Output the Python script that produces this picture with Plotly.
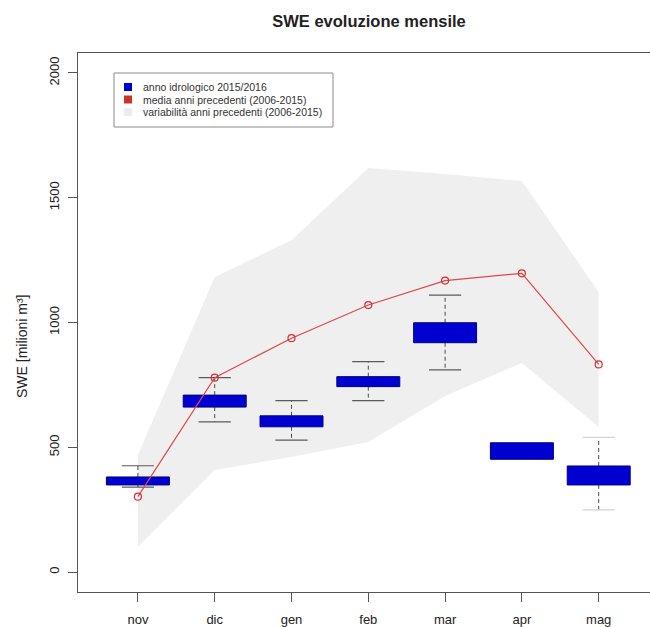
import plotly.graph_objects as go

# Months of the hydrological year
months = ["nov", "dic", "gen", "feb", "mar", "apr", "mag"]

# Current season: box statistics (milioni m3)
box_q1 = [349, 661, 582, 743, 919, 452, 349]
box_q3 = [381, 709, 626, 783, 999, 518, 425]
whisk_low = [340, 602, 529, 687, 810, None, 249]
whisk_high = [426, 779, 687, 843, 1110, None, 540]

# Mean of the previous years
mean_prev = [302, 779, 937, 1070, 1168, 1197, 832]

# Range (min / max) of the previous years
band_low = [100, 409, 461, 521, 705, 838, 581]
band_high = [469, 1182, 1330, 1619, 1595, 1567, 1122]

legend_labels = [
    "anno idrologico 2015/2016",
    "media anni precedenti (2006-2015)",
    "variabilità anni precedenti (2006-2015)",
]
legend_colors = ["#0000d0", "#c83228", "#ececec"]

FONT = "Liberation Sans, Arial, sans-serif"
BOX_W = 0.82
CAP_HALF = 0.21
pos = list(range(1, len(months) + 1))

# plot area in pixels (used to place the legend and labels)
L, R, T, B = 78, 650, 53, 592


def px_x(px):
    return (px - L) / (R - L)


def px_y(py):
    return (B - py) / (B - T)


fig = go.Figure()

# grey variability band
fig.add_trace(go.Scatter(
    x=pos + pos[::-1],
    y=band_high + band_low[::-1],
    fill="toself", fillcolor="#efefef", mode="lines",
    line=dict(width=0, color="#efefef"),
    hoverinfo="skip", showlegend=False,
))

# whiskers (dashed) and caps
for i, p in enumerate(pos):
    if whisk_low[i] is None:
        continue
    fig.add_trace(go.Scatter(
        x=[p, p, None, p, p], y=[box_q3[i], whisk_high[i], None, box_q1[i], whisk_low[i]],
        mode="lines", line=dict(color="#4a4a4a", width=1, dash="4px,3px"),
        showlegend=False, hoverinfo="skip"))
    cap_col = "#d4d4d4" if i == len(pos) - 1 else "#5a5a5a"
    fig.add_trace(go.Scatter(
        x=[p - CAP_HALF, p + CAP_HALF, None, p - CAP_HALF, p + CAP_HALF],
        y=[whisk_high[i], whisk_high[i], None, whisk_low[i], whisk_low[i]],
        mode="lines", line=dict(color=cap_col, width=1.2),
        showlegend=False, hoverinfo="skip"))

# boxes (interquartile range), drawn as filled polygons
for i, p in enumerate(pos):
    x0, x1 = p - BOX_W / 2, p + BOX_W / 2
    fig.add_trace(go.Scatter(
        x=[x0, x1, x1, x0, x0],
        y=[box_q1[i], box_q1[i], box_q3[i], box_q3[i], box_q1[i]],
        fill="toself", fillcolor="#0000d0", mode="lines",
        line=dict(color="#000080", width=1),
        showlegend=False, hoverinfo="skip"))

# mean of previous years
fig.add_trace(go.Scatter(
    x=pos, y=mean_prev, mode="lines+markers",
    line=dict(color="#e04848", width=1.2),
    marker=dict(symbol="circle-open", size=7, color="#d83030", line=dict(width=1.2)),
    showlegend=False, hoverinfo="skip"))

fig.update_layout(
    width=650, height=627,
    margin=dict(l=L, r=650 - R, t=T, b=627 - B),
    plot_bgcolor="white", paper_bgcolor="white",
    font=dict(family=FONT, size=13, color="#222222"),
    showlegend=False,
    title=dict(text="<b>SWE evoluzione mensile</b>", x=369 / 650, xref="container",
               xanchor="center", y=1 - 21 / 627, yref="container", yanchor="middle",
               font=dict(size=16.5, color="#222222")),
    xaxis=dict(range=[0.22, 0.22 + (R - L) / 76.8], tickmode="array", tickvals=pos,
               ticktext=months, showgrid=False, zeroline=False,
               showline=True, linecolor="#555555", linewidth=1, mirror=True,
               ticks="outside", ticklen=9, tickcolor="#555555",
               ticklabelstandoff=6, tickfont=dict(size=13)),
    yaxis=dict(range=[-80, 2080], tickvals=[0, 500, 1000, 1500, 2000],
               showgrid=False, zeroline=False, showline=True,
               linecolor="#555555", linewidth=1, ticks="outside", ticklen=9,
               tickcolor="#555555", tickangle=-90, ticklabelstandoff=4,
               tickfont=dict(size=13)),
)

# y axis title
fig.add_annotation(text="SWE [milioni m³]", textangle=-90, xref="paper", yref="paper",
                   x=px_x(22), y=px_y(347), showarrow=False,
                   xanchor="center", yanchor="middle", font=dict(size=14))

# legend box with square swatches
fig.add_shape(type="rect", xref="paper", yref="paper",
              x0=px_x(114), x1=px_x(333), y0=px_y(127), y1=px_y(73),
              line=dict(color="#8a8a8a", width=1), fillcolor="white", layer="above")
for k, (lab, col) in enumerate(zip(legend_labels, legend_colors)):
    cy = 87 + 12.5 * k
    fig.add_shape(type="rect", xref="paper", yref="paper",
                  x0=px_x(124), x1=px_x(132), y0=px_y(cy + 4), y1=px_y(cy - 4),
                  line=dict(width=0), fillcolor=col, layer="above")
    fig.add_annotation(text=lab, xref="paper", yref="paper",
                       x=px_x(141), y=px_y(cy), showarrow=False,
                       xanchor="left", yanchor="middle",
                       font=dict(size=10.5, color="#333333"))

fig.write_html("out.html")
